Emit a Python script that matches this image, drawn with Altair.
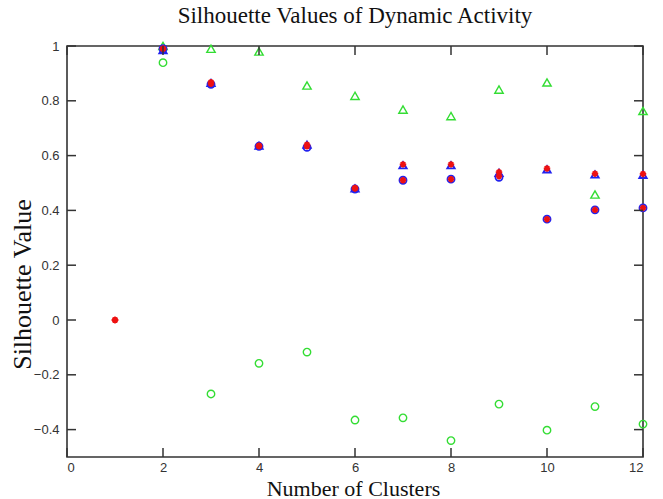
import altair as alt
import pandas as pd

# Number of clusters evaluated
clusters = [1, 2, 3, 4, 5, 6, 7, 8, 9, 10, 11, 12]

# Silhouette values per clustering run (None: not computed for a single cluster)
blue_circle = [None, 0.99, 0.86, 0.634, 0.63, 0.478, 0.51, 0.514, 0.521, 0.368, 0.402, 0.409]
red_star_circle = [0.0, 0.99, 0.862, 0.634, 0.634, 0.48, 0.51, 0.514, 0.525, 0.368, 0.402, 0.409]
blue_triangle = [None, 0.985, 0.865, 0.636, 0.64, 0.48, 0.565, 0.565, 0.537, 0.55, 0.531, 0.53]
red_star_triangle = [0.0, 0.99, 0.868, 0.636, 0.64, 0.482, 0.568, 0.568, 0.54, 0.553, 0.534, 0.533]
green_triangle = [None, 1.0, 0.99, 0.98, 0.856, 0.818, 0.768, 0.744, 0.841, 0.867, 0.458, 0.763]
green_circle = [None, 0.939, -0.27, -0.158, -0.117, -0.365, -0.357, -0.44, -0.307, -0.402, -0.316, -0.38]

x_ticks = [0, 2, 4, 6, 8, 10, 12]
y_ticks = [-0.4, -0.2, 0, 0.2, 0.4, 0.6, 0.8, 1]

W, H = 576, 411
TICK = 9
SERIF = "Liberation Serif"
SANS = "Liberation Sans"

frames = []
for name, vals in [
    ("blue_circle", blue_circle),
    ("blue_triangle", blue_triangle),
    ("green_triangle", green_triangle),
    ("green_circle", green_circle),
    ("red_star_circle", red_star_circle),
    ("red_star_triangle", red_star_triangle),
]:
    frames.append(pd.DataFrame({"k": clusters, "value": vals, "series": name}))
df = pd.concat(frames, ignore_index=True).dropna(subset=["value"])

x_scale = alt.Scale(domain=[0, 12], nice=False, zero=False)
y_scale = alt.Scale(domain=[-0.5, 1], nice=False, zero=False)

x_axis = alt.Axis(values=x_ticks, domain=False, ticks=False, grid=False,
                  labelFont=SANS, labelFontSize=13, labelColor="#333333",
                  labelPadding=4, title="Number of Clusters", titleFont=SERIF,
                  titleFontSize=22, titleFontWeight="normal", titleColor="#111111",
                  titleBaseline="alphabetic", titleX=W / 2 - 2, titleY=38)
y_axis = alt.Axis(values=y_ticks, format="~g", domain=False, ticks=False, grid=False,
                  labelFont=SANS, labelFontSize=13, labelColor="#333333",
                  labelPadding=8, title="Silhouette Value", titleFont=SERIF,
                  titleFontSize=26, titleFontWeight="normal", titleColor="#111111",
                  titleAngle=270, titleBaseline="alphabetic", titleAlign="center",
                  titleX=-37, titleY=238)

base = alt.Chart(df)


def points(series, shape, color, size, stroke_width=1.4):
    return base.transform_filter(alt.datum.series == series).mark_point(
        shape=shape, color=color, filled=False, size=size,
        strokeWidth=stroke_width, opacity=1
    ).encode(
        x=alt.X("k:Q", scale=x_scale, axis=x_axis),
        y=alt.Y("value:Q", scale=y_scale, axis=y_axis),
    )


asterisk = "M-1,0L1,0M0,-1L0,1M-0.7,-0.7L0.7,0.7M-0.7,0.7L0.7,-0.7"

layers = [
    points("green_circle", "circle", "#33dd33", 55),
    points("green_triangle", "triangle-up", "#33dd33", 70),
    points("blue_circle", "circle", "#2222ee", 50, 1.8),
    points("blue_triangle", "triangle-up", "#2222ee", 55, 1.8),
    points("red_star_circle", asterisk, "#ee1111", 42, 1.8),
    points("red_star_triangle", asterisk, "#ee1111", 42, 1.8),
]

# Inward tick marks on all four sides of the box
xt = pd.DataFrame({"t": x_ticks})
yt = pd.DataFrame({"t": y_ticks})
tick_style = dict(color="#333333", strokeWidth=1.5)
bottom_ticks = alt.Chart(xt).mark_rule(**tick_style).encode(
    x=alt.X("t:Q", scale=x_scale, axis=x_axis), y=alt.value(H), y2=alt.value(H - TICK))
top_ticks = alt.Chart(xt).mark_rule(**tick_style).encode(
    x=alt.X("t:Q", scale=x_scale, axis=x_axis), y=alt.value(0), y2=alt.value(TICK))
left_ticks = alt.Chart(yt).mark_rule(**tick_style).encode(
    y=alt.Y("t:Q", scale=y_scale, axis=y_axis), x=alt.value(0), x2=alt.value(TICK))
right_ticks = alt.Chart(yt).mark_rule(**tick_style).encode(
    y=alt.Y("t:Q", scale=y_scale, axis=y_axis), x=alt.value(W), x2=alt.value(W - TICK))

chart = alt.layer(
    *layers, bottom_ticks, top_ticks, left_ticks, right_ticks
).properties(
    width=W,
    height=H,
    background="white",
    title=alt.Title("Silhouette Values of Dynamic Activity", font=SERIF,
                    fontSize=23, fontWeight="normal", color="#111111", offset=12),
    autosize=alt.AutoSizeParams(type="none"),
    padding={"left": 67, "top": 46, "right": 20, "bottom": 42},
).configure_view(
    stroke="#333333", strokeWidth=1.6
)

chart.save("out.html", embed_options={"renderer": "svg", "actions": False})
